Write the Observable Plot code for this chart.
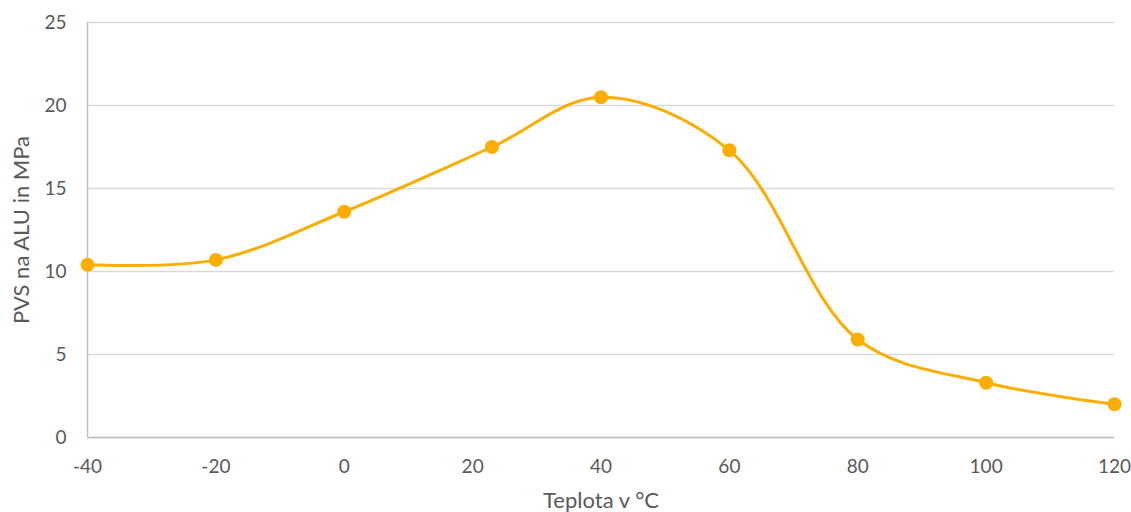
<!DOCTYPE html>
<html>
<head>
<meta charset="utf-8">
<script src="https://cdn.jsdelivr.net/npm/d3@7"></script>
<script src="https://cdn.jsdelivr.net/npm/@observablehq/plot@0.6"></script>
<style>
  html, body { margin: 0; padding: 0; background: #fff; }
  #chart svg { display: block; }
  #chart svg text { font-family: Lato, 'Open Sans', sans-serif; }
  #chart svg g[aria-label="x-axis tick label"] text,
  #chart svg g[aria-label="y-axis tick label"] text { font-size: 19px; }
  #chart svg g[aria-label="x-axis label"] text,
  #chart svg g[aria-label="y-axis label"] text { font-size: 22px; }
</style>
</head>
<body>
<div id="chart"></div>
<script>
const temperatures = [-40, -20, 0, 23, 40, 60, 80, 100, 120];
const strengths = [10.4, 10.7, 13.6, 17.5, 20.5, 17.3, 5.9, 3.3, 2.0];
const xTicks = [-40, -20, 0, 20, 40, 60, 80, 100, 120];
const yTicks = [0, 5, 10, 15, 20, 25];

const data = temperatures.map((t, i) => ({t, v: strengths[i]}));
const color = "#FBAE00";
const textColor = "#595959";

const chart = Plot.plot({
  width: 1131,
  height: 512,
  marginLeft: 87,
  marginRight: 17,
  marginTop: 22,
  marginBottom: 75,
  style: {fontFamily: "Lato, sans-serif", fontSize: "19px", color: textColor, background: "#fff"},
  x: {domain: [-40, 120], ticks: xTicks},
  y: {domain: [0, 25], ticks: yTicks},
  marks: [
    Plot.ruleY(yTicks, {stroke: "#d9d9d9", strokeWidth: 1.3}),
    Plot.ruleX([-40], {stroke: "#bfbfbf", strokeWidth: 1.5}),
    Plot.ruleY([0], {stroke: "#bfbfbf", strokeWidth: 1.5}),
    Plot.axisX({ticks: xTicks, tickSize: 0, tickPadding: 22, fill: textColor, tickFormat: d => String(d),
      label: "Teplota v °C", labelAnchor: "center", labelArrow: "none", labelOffset: 70}),
    Plot.axisY({ticks: yTicks, tickSize: 0, tickPadding: 21, fill: textColor, tickFormat: d => String(d),
      label: "PVS na ALU in MPa", labelAnchor: "center", labelArrow: "none", labelOffset: 74}),
    Plot.line(data, {x: "t", y: "v", stroke: color, strokeWidth: 3, curve: "catmull-rom"}),
    Plot.dot(data, {x: "t", y: "v", fill: color, r: 7})
  ]
});
document.getElementById("chart").appendChild(chart);
</script>
</body>
</html>
